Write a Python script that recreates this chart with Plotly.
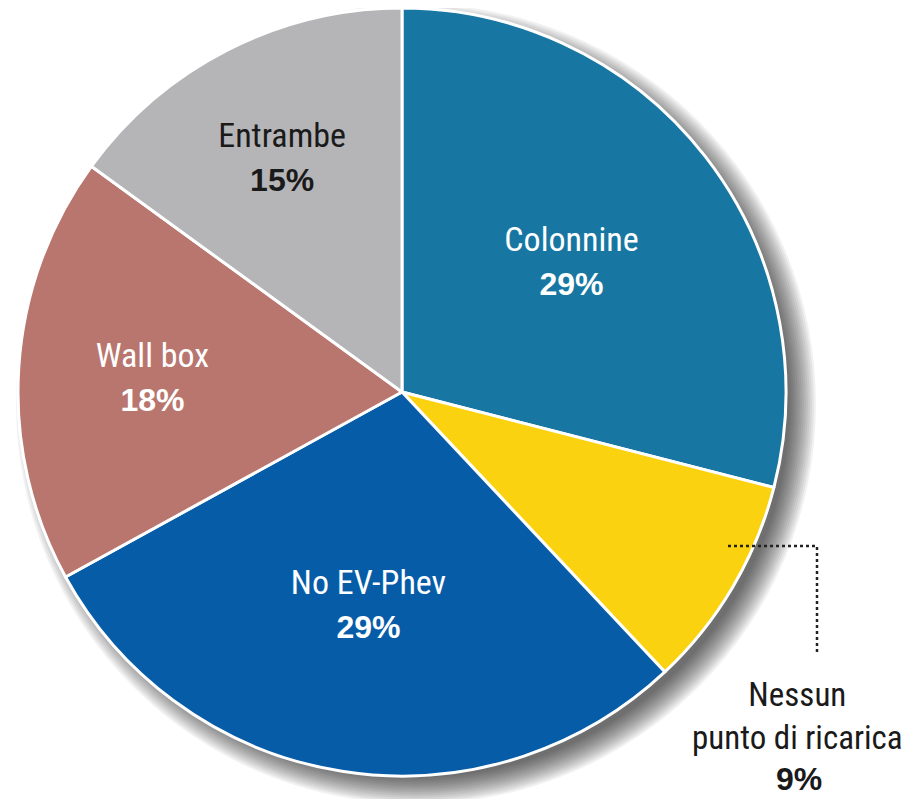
import plotly.graph_objects as go

labels = ["Colonnine", "Nessun<br>punto di ricarica", "No EV-Phev", "Wall box", "Entrambe"]
values = [29, 9, 29, 18, 15]
colors = ["#1877a2", "#fbd20f", "#075ca8", "#b8766e", "#b5b5b7"]
text_colors = ["white", "rgba(0,0,0,0)", "white", "white", "#1a1a1a"]

FONT = "Liberation Sans Narrow, Roboto Condensed, Arial Narrow, sans-serif"
BOLD = "Liberation Sans, Arial, sans-serif"

W, H = 910, 799
OFF = 8  # page body margin
cx, cy, r = 402 - OFF, 392 - OFF, 384

def px(x):
    return x / W

def py(y):
    return 1 - y / H

fig = go.Figure()
fig.add_trace(go.Pie(
    labels=labels, values=values, sort=False, direction="clockwise", rotation=0,
    marker=dict(colors=colors, line=dict(color="white", width=3)),
    texttemplate="%{label}<br><span style='font-family:" + BOLD + ";font-size:32px'><b>%{value}%</b></span>",
    textposition="inside", insidetextorientation="horizontal",
    insidetextfont=dict(family=FONT, size=34, color=text_colors),
    hoverinfo="skip",
    domain=dict(x=[px(cx - r), px(cx + r)], y=[py(cy + r), py(cy - r)]),
))

# soft drop shadow (bottom-right)
shapes = []
for k in range(14):
    rr = r - 10 + k * 2.0
    sx, sy = cx + 14, cy + 12
    shapes.append(dict(type="circle", xref="paper", yref="paper", layer="below",
                       x0=px(sx - rr), x1=px(sx + rr), y0=py(sy + rr), y1=py(sy - rr),
                       fillcolor="rgba(0,0,0,0.055)", line=dict(width=0)))
# dotted leader line
lx0, lx1, ly0, ly1 = 728 - OFF, 817 - OFF, 546 - OFF, 652 - OFF
shapes.append(dict(type="path", xref="paper", yref="paper",
                   path=f"M {px(lx0)} {py(ly0)} L {px(lx1)} {py(ly0)} L {px(lx1)} {py(ly1)}",
                   line=dict(color="#222", width=2.5, dash="dot")))

fig.add_annotation(x=px(797 - OFF), y=py(716 - OFF), xref="paper", yref="paper",
                   xanchor="center", yanchor="middle",
                   text=labels[1], showarrow=False, align="center",
                   font=dict(family=FONT, size=33, color="#1a1a1a"))
fig.add_annotation(x=px(799 - OFF), y=py(779 - OFF), xref="paper", yref="paper",
                   xanchor="center", yanchor="middle",
                   text=f"<b>{values[1]}%</b>", showarrow=False,
                   font=dict(family=BOLD, size=32, color="#1a1a1a"))

fig.update_layout(width=W, height=H, margin=dict(l=0, r=0, t=0, b=0),
                  paper_bgcolor="white", plot_bgcolor="white",
                  showlegend=False, shapes=shapes)
fig.write_html("out.html")
